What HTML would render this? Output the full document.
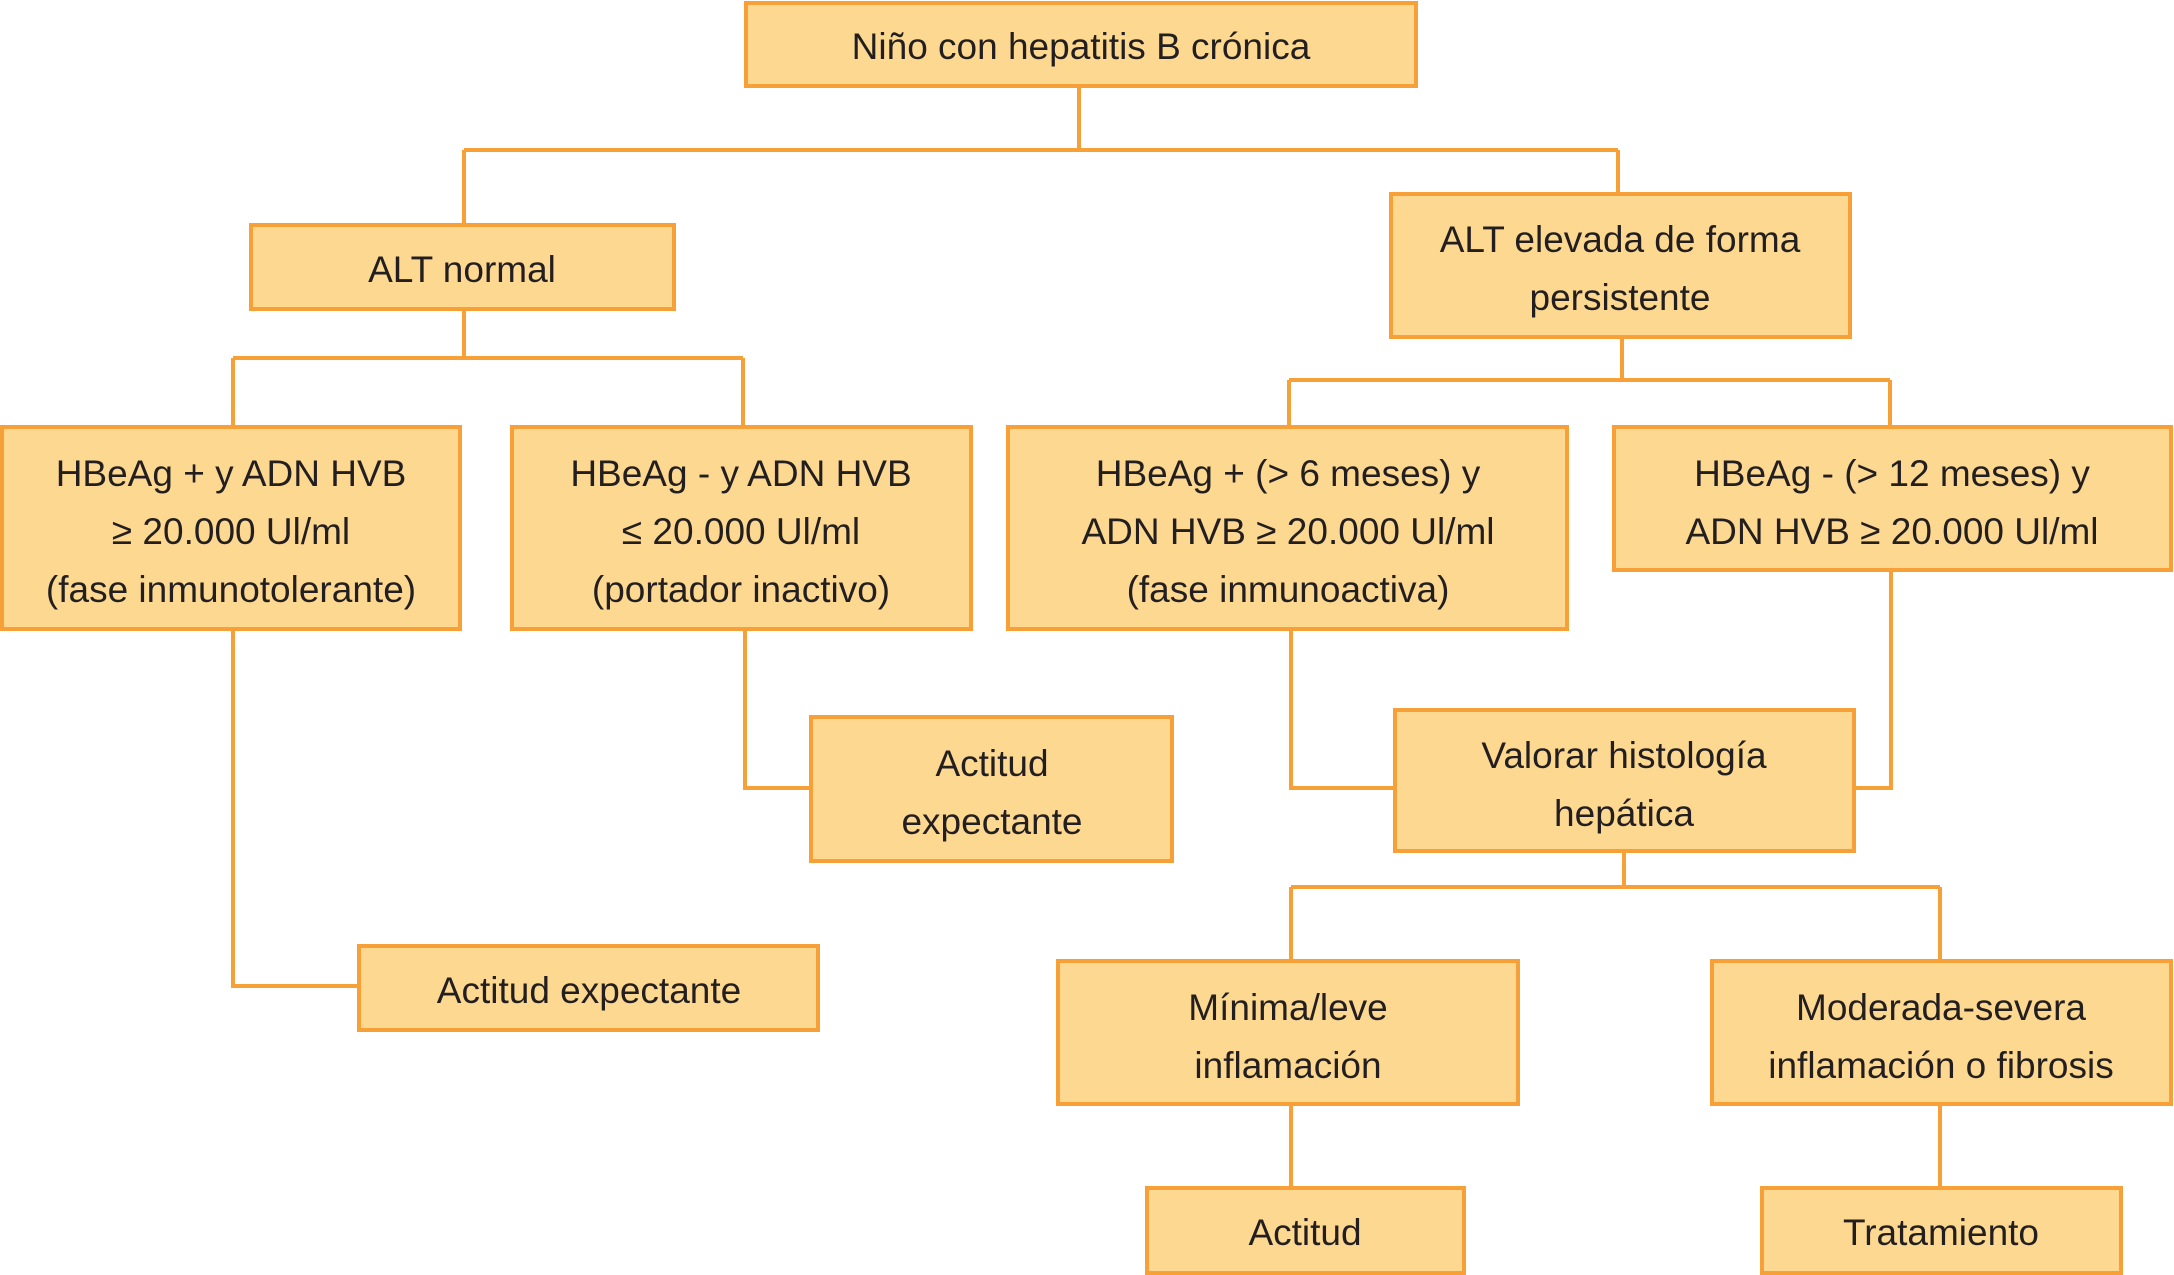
<!DOCTYPE html>
<html><head><meta charset="utf-8"><style>
html,body{margin:0;padding:0;background:#fff;}
svg{display:block;}
text{font-family:"Liberation Sans",sans-serif;font-size:37px;fill:#231f20;text-anchor:middle;}
rect{fill:#FDD891;stroke:#F7A038;stroke-width:4;}
path{fill:none;stroke:#F7A038;stroke-width:4;}
</style></head><body>
<svg width="2174" height="1275" viewBox="0 0 2174 1275">
<path d="M1079 86V150M464 150H1618M464 150V225M1618 150V194"/>
<path d="M464 309V358M233 358H743M233 358V427M743 358V427"/>
<path d="M1622 337V380M1289 380H1890M1289 380V427M1890 380V427"/>
<path d="M233 629V986H359"/>
<path d="M745 629V788H811"/>
<path d="M1291 629V788H1395"/>
<path d="M1891 570V788H1854"/>
<path d="M1624 851V887M1291 887H1940M1291 887V961M1940 887V961"/>
<path d="M1291 1104V1188M1940 1104V1188"/>

<rect x="746" y="3" width="670" height="83"/>
<text x="1081" y="59">Niño con hepatitis B crónica</text>

<rect x="251" y="225" width="423" height="84"/>
<text x="462" y="282">ALT normal</text>

<rect x="1391" y="194" width="459" height="143"/>
<text x="1620" y="252">ALT elevada de forma</text>
<text x="1620" y="310">persistente</text>

<rect x="2" y="427" width="458" height="202"/>
<text x="231" y="486">HBeAg + y ADN HVB</text>
<text x="231" y="544">≥ 20.000 Ul/ml</text>
<text x="231" y="602">(fase inmunotolerante)</text>

<rect x="512" y="427" width="459" height="202"/>
<text x="741" y="486">HBeAg - y ADN HVB</text>
<text x="741" y="544">≤ 20.000 Ul/ml</text>
<text x="741" y="602">(portador inactivo)</text>

<rect x="1008" y="427" width="559" height="202"/>
<text x="1288" y="486">HBeAg + (&gt; 6 meses) y</text>
<text x="1288" y="544">ADN HVB ≥ 20.000 Ul/ml</text>
<text x="1288" y="602">(fase inmunoactiva)</text>

<rect x="1614" y="427" width="557" height="143"/>
<text x="1892" y="486">HBeAg - (&gt; 12 meses) y</text>
<text x="1892" y="544">ADN HVB ≥ 20.000 Ul/ml</text>

<rect x="811" y="717" width="361" height="144"/>
<text x="992" y="776">Actitud</text>
<text x="992" y="834">expectante</text>

<rect x="1395" y="710" width="459" height="141"/>
<text x="1624" y="768">Valorar histología</text>
<text x="1624" y="826">hepática</text>

<rect x="359" y="946" width="459" height="84"/>
<text x="589" y="1003">Actitud expectante</text>

<rect x="1058" y="961" width="460" height="143"/>
<text x="1288" y="1020">Mínima/leve</text>
<text x="1288" y="1078">inflamación</text>

<rect x="1712" y="961" width="459" height="143"/>
<text x="1941" y="1020">Moderada-severa</text>
<text x="1941" y="1078">inflamación o fibrosis</text>

<rect x="1147" y="1188" width="317" height="85"/>
<text x="1305" y="1245">Actitud</text>

<rect x="1762" y="1188" width="359" height="85"/>
<text x="1941" y="1245">Tratamiento</text>
</svg>
</body></html>
